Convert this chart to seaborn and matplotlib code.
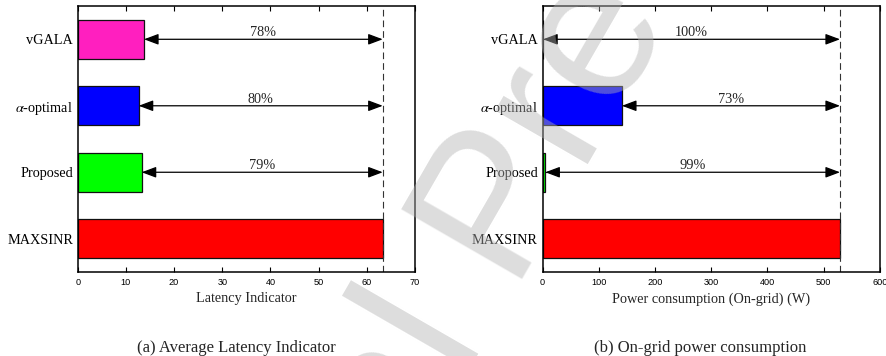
import numpy as np
import pandas as pd
import matplotlib
matplotlib.use("Agg")
import matplotlib.pyplot as plt
import seaborn as sns

# ---- data -------------------------------------------------------------
schemes = ["vGALA", r"$\alpha$-optimal", "Proposed", "MAXSINR"]
bar_colors = ["#ff1fbf", "#0000ff", "#00ff00", "#ff0000"]

latency = [13.76, 12.65, 13.27, 63.3]          # average latency indicator
power_on_grid = [0.8, 141.0, 4.7, 529.0]       # on-grid power (W)

latency_ticks = [0, 10, 20, 30, 40, 50, 60, 70]
power_ticks = [0, 100, 200, 300, 400, 500, 600]

x_labels = ["Latency Indicator", "Power consumption (On-grid) (W)"]
captions = ["(a) Average Latency Indicator", "(b) On-grid power consumption"]

# ---- style ------------------------------------------------------------
sns.set_theme(style="white")
plt.rcParams["font.family"] = ["Liberation Serif", "DejaVu Serif"]
plt.rcParams["mathtext.fontset"] = "stix"

SERIF = "Liberation Serif"
SANS = "Liberation Sans"

fig = plt.figure(figsize=(8.87, 3.56), dpi=100)
ax_a = fig.add_axes([0.0876, 0.236, 0.3803, 0.747])
ax_b = fig.add_axes([0.6118, 0.236, 0.3802, 0.747])


def draw_panel(ax, values, ticks, xlabel):
    df = pd.DataFrame({"scheme": schemes, "value": values})
    sns.barplot(data=df, x="value", y="scheme", hue="scheme", order=schemes,
                hue_order=schemes, palette=bar_colors, orient="h", width=0.59,
                edgecolor="#111111", linewidth=0.9, saturation=1.0,
                legend=False, ax=ax)
    ref = max(values)
    ax.set_xlim(ticks[0], ticks[-1])
    ax.set_ylim(3.5, -0.5)
    ax.set_xticks(ticks)
    ax.set_xticklabels([str(t) for t in ticks], fontfamily=SANS, fontsize=6.6)
    ax.set_ylabel("")
    ax.set_xlabel(xlabel, fontfamily=SERIF, fontsize=10.3, labelpad=4)
    for lab in ax.get_yticklabels():
        lab.set_fontfamily(SERIF)
        lab.set_fontsize(10.3)
    ax.tick_params(axis="x", direction="in", length=3.5, width=0.8,
                   top=True, bottom=True, pad=4.0, colors="black")
    ax.tick_params(axis="y", direction="in", length=3.0, width=0.8,
                   left=True, right=False, pad=3.4, colors="black")
    for sp in ax.spines.values():
        sp.set_visible(True)
        sp.set_color("black")
        sp.set_linewidth(1.1)

    # reference line at the worst scheme
    ax.axvline(ref, color="#333333", lw=0.8, ls=(0, (6, 3.6)), zorder=1)

    # reduction arrows with percentage labels
    for i, v in enumerate(values):
        if v == ref:
            continue
        ax.annotate("", xy=(v, i), xytext=(ref, i),
                    arrowprops=dict(arrowstyle="<|-|>,head_length=0.8,head_width=0.3",
                                    color="black", lw=0.9, mutation_scale=11,
                                    shrinkA=0, shrinkB=0), zorder=4)
        pct = int(round(100 * (1 - v / ref)))
        ax.text((v + ref) / 2, i - 0.045, f"{pct}%", ha="center", va="baseline",
                fontfamily=SERIF, fontsize=10.3, zorder=4)


draw_panel(ax_a, latency, latency_ticks, x_labels[0])
draw_panel(ax_b, power_on_grid, power_ticks, x_labels[1])

fig.text(236 / 887, 1 - 348 / 356, captions[0], ha="center", va="center",
         fontfamily=SERIF, fontsize=12)
fig.text(700.5 / 887, 1 - 348 / 356, captions[1], ha="center", va="center",
         fontfamily=SERIF, fontsize=12)

# diagonal watermark
fig.text(0.5637, 0.4017, "Journal Pre-proof", ha="center", va="center",
         rotation=60, rotation_mode="anchor", fontfamily=SANS,
         fontsize=146, color=(0.70, 0.70, 0.70),
         alpha=0.45, zorder=10)

fig.savefig("out.png", dpi=100)
